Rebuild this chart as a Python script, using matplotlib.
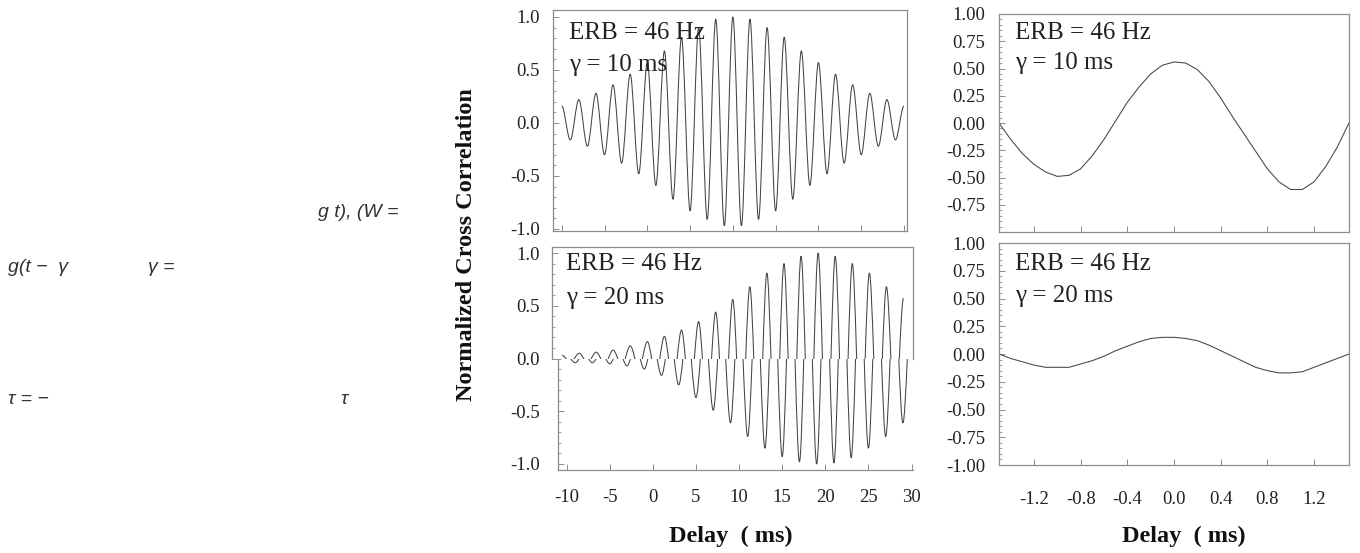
import numpy as np
import matplotlib
matplotlib.use('Agg')
import matplotlib.pyplot as plt
from matplotlib.path import Path
from matplotlib.patches import PathPatch
from matplotlib.ticker import MultipleLocator, FixedLocator, FormatStrFormatter

plt.rcParams['font.family'] = ['Liberation Serif', 'DejaVu Serif']

# ---- data ----
# left panels: extrema of the cross correlation, one every 1 ms
delay_long = np.arange(-10, 31)
ncc_10ms = [0.16, -0.16, 0.22, -0.22, 0.28, -0.30, 0.36, -0.38, 0.46, -0.48,
            0.57, -0.59, 0.68, -0.72, 0.81, -0.83, 0.90, -0.91, 0.98, -0.97,
            1.00, -0.97, 0.98, -0.91, 0.90, -0.83, 0.81, -0.72, 0.68, -0.59,
            0.57, -0.48, 0.46, -0.38, 0.36, -0.30, 0.28, -0.22, 0.22, -0.16,
            0.16]
ncc_20ms = [0.03, -0.04, 0.05, -0.04, 0.06, -0.05, 0.08, -0.07, 0.12, -0.10,
            0.16, -0.16, 0.21, -0.25, 0.27, -0.37, 0.35, -0.49, 0.44, -0.61,
            0.56, -0.74, 0.68, -0.85, 0.81, -0.93, 0.90, -0.98, 0.97, -1.00,
            1.00, -0.99, 0.97, -0.94, 0.90, -0.85, 0.81, -0.74, 0.68, -0.61,
            0.57]

# right panels: zoom on the central lag, sampled every 0.1 ms
delay_short = [-1.5, -1.4, -1.3, -1.2, -1.1, -1.0, -0.9, -0.8, -0.7, -0.6, -0.5,
               -0.4, -0.3, -0.2, -0.1, 0.0, 0.1, 0.2, 0.3, 0.4, 0.5,
               0.6, 0.7, 0.8, 0.9, 1.0, 1.1, 1.2, 1.3, 1.4, 1.5]
zoom_10ms = [0.00, -0.15, -0.28, -0.38, -0.45, -0.49, -0.48, -0.42, -0.30, -0.15, 0.02,
             0.19, 0.33, 0.45, 0.53, 0.56, 0.55, 0.49, 0.38, 0.23, 0.06,
             -0.10, -0.26, -0.42, -0.54, -0.61, -0.61, -0.54, -0.40, -0.22, 0.00]
zoom_20ms = [0.00, -0.04, -0.07, -0.10, -0.12, -0.12, -0.12, -0.09, -0.06, -0.02, 0.03,
             0.07, 0.11, 0.14, 0.15, 0.15, 0.14, 0.12, 0.08, 0.03, -0.02,
             -0.07, -0.12, -0.15, -0.17, -0.17, -0.16, -0.12, -0.08, -0.04, 0.00]

labels_erb = ['ERB = 46 Hz', 'ERB = 46 Hz']
labels_gamma = ['γ = 10 ms', 'γ = 20 ms']

W, H = 1360, 553
LINE = '#444444'
FRAME = '#8c8c8c'
TICK_FS = 13.5


def rect(l, t, r, b):
    return [l / W, 1 - b / H, (r - l) / W, (b - t) / H]


def ftext(fig, x, y, s, **kw):
    return fig.text(x / W, 1 - y / H, s, **kw)


def extrema_path(x, y):
    # smooth half-cycles between successive extrema (horizontal tangents)
    verts = [(x[0], y[0])]
    codes = [Path.MOVETO]
    for x0, y0, x1, y1 in zip(x[:-1], y[:-1], x[1:], y[1:]):
        h = (x1 - x0) / 3.0
        verts += [(x0 + h, y0), (x1 - h, y1), (x1, y1)]
        codes += [Path.CURVE4] * 3
    return Path(verts, codes)


def style(ax, spines=('left', 'right', 'top', 'bottom')):
    for name, sp in ax.spines.items():
        sp.set_visible(name in spines)
        sp.set_color(FRAME)
        sp.set_linewidth(0.9)
    ax.tick_params(which='both', direction='in', colors=FRAME,
                   labelcolor='#222222', labelsize=TICK_FS,
                   top=False, right=False)
    ax.tick_params(which='major', length=4, width=0.7)
    ax.tick_params(which='minor', length=2, width=0.6)


fig = plt.figure(figsize=(W / 100, H / 100), dpi=100)

# ---- top-left ----
ax_tl = fig.add_axes(rect(553, 10, 907, 231))
ax_tl.add_patch(PathPatch(extrema_path(delay_long, ncc_10ms), fill=False,
                          edgecolor=LINE, lw=0.75))
ax_tl.set_xlim(-11.02, 30.35)
ax_tl.set_ylim(-1.02, 1.066)
style(ax_tl)
ax_tl.xaxis.set_major_locator(MultipleLocator(5))
ax_tl.yaxis.set_major_locator(MultipleLocator(0.5))
ax_tl.yaxis.set_minor_locator(MultipleLocator(0.1))
ax_tl.yaxis.set_major_formatter(FormatStrFormatter('%.1f'))
ax_tl.tick_params(axis='x', labelbottom=False)
ax_tl.tick_params(axis='y', pad=9.5)

# ---- bottom-left: drawn in two halves, as in the original ----
ax_bu = fig.add_axes(rect(552, 247, 913, 358.5))
ax_bl = fig.add_axes(rect(558, 358.5, 913, 470))
for ax in (ax_bu, ax_bl):
    ax.add_patch(PathPatch(extrema_path(delay_long, ncc_20ms), fill=False,
                           edgecolor=LINE, lw=0.75))
    ax.patch.set_alpha(0)
ax_bu.set_xlim(-11.17, 31.11)
ax_bu.set_ylim(0, 1.057)
ax_bl.set_xlim(-11.0, 30.17)
ax_bl.set_ylim(-1.057, 0)
style(ax_bu, spines=('left', 'right', 'top'))
style(ax_bl, spines=('left', 'bottom'))
ax_bu.set_xticks([])
ax_bu.yaxis.set_major_locator(FixedLocator([0.0, 0.5, 1.0]))
ax_bu.yaxis.set_minor_locator(MultipleLocator(0.1))
ax_bu.yaxis.set_major_formatter(FormatStrFormatter('%.1f'))
ax_bu.tick_params(axis='y', pad=8.7)
ax_bl.xaxis.set_major_locator(MultipleLocator(5))
ax_bl.xaxis.set_major_formatter(FormatStrFormatter('%d'))
ax_bl.yaxis.set_major_locator(FixedLocator([-1.0, -0.5]))
ax_bl.yaxis.set_minor_locator(MultipleLocator(0.1))
ax_bl.yaxis.set_major_formatter(FormatStrFormatter('%.1f'))
ax_bl.tick_params(axis='y', pad=13)
ax_bl.tick_params(axis='x', pad=14)

# ---- right column ----
ax_tr = fig.add_axes(rect(999, 14, 1349, 232))
ax_br = fig.add_axes(rect(999, 243, 1349, 465))
for ax, vals in ((ax_tr, zoom_10ms), (ax_br, zoom_20ms)):
    ax.plot(delay_short, vals, color=LINE, lw=0.75)
    ax.set_xlim(-1.5, 1.5)
    ax.set_ylim(-1.0, 1.0)
    style(ax)
    ax.xaxis.set_major_locator(FixedLocator([-1.2, -0.8, -0.4, 0.0, 0.4, 0.8, 1.2]))
    ax.xaxis.set_major_formatter(FormatStrFormatter('%.1f'))
    ax.yaxis.set_major_locator(MultipleLocator(0.25))
    ax.yaxis.set_minor_locator(MultipleLocator(0.05))
    ax.yaxis.set_major_formatter(FormatStrFormatter('%.2f'))
    ax.tick_params(axis='y', pad=10)
ax_tr.yaxis.set_major_locator(FixedLocator([-0.75, -0.5, -0.25, 0.0, 0.25, 0.5, 0.75, 1.0]))
ax_tr.tick_params(axis='x', labelbottom=False)
ax_br.tick_params(axis='x', pad=19)

# ---- panel annotations ----
ann = dict(fontsize=18, color='#222222', ha='left', va='center')
ftext(fig, 569, 33, labels_erb[0], **ann)
ftext(fig, 569, 65, labels_gamma[0], **ann)
ftext(fig, 566, 264, labels_erb[1], **ann)
ftext(fig, 566, 298, labels_gamma[1], **ann)
ftext(fig, 1015, 33, labels_erb[0], **ann)
ftext(fig, 1015, 63, labels_gamma[0], **ann)
ftext(fig, 1015, 264, labels_erb[1], **ann)
ftext(fig, 1015, 296, labels_gamma[1], **ann)

# ---- axis titles ----
bold = dict(fontsize=17.5, fontweight='bold', color='#111111', ha='center', va='center')
ftext(fig, 731, 536, 'Delay  ( ms)', **bold)
ftext(fig, 1184, 536, 'Delay  ( ms)', **bold)
ftext(fig, 466, 245, 'Normalized Cross Correlation', rotation=90, **bold)

# ---- stray text fragments from the page ----
frag = dict(fontsize=14, color='#333333', style='italic', ha='left', va='center',
            family=['Liberation Sans', 'DejaVu Sans'])
ftext(fig, 318, 213, 'g t), (W =', **frag)
ftext(fig, 8, 268, 'g(t −  γ', **frag)
ftext(fig, 148, 268, 'γ =', **frag)
ftext(fig, 8, 400, 'τ = −', **frag)
ftext(fig, 340, 400, 'τ', **frag)

fig.savefig('out.png', dpi=100)
